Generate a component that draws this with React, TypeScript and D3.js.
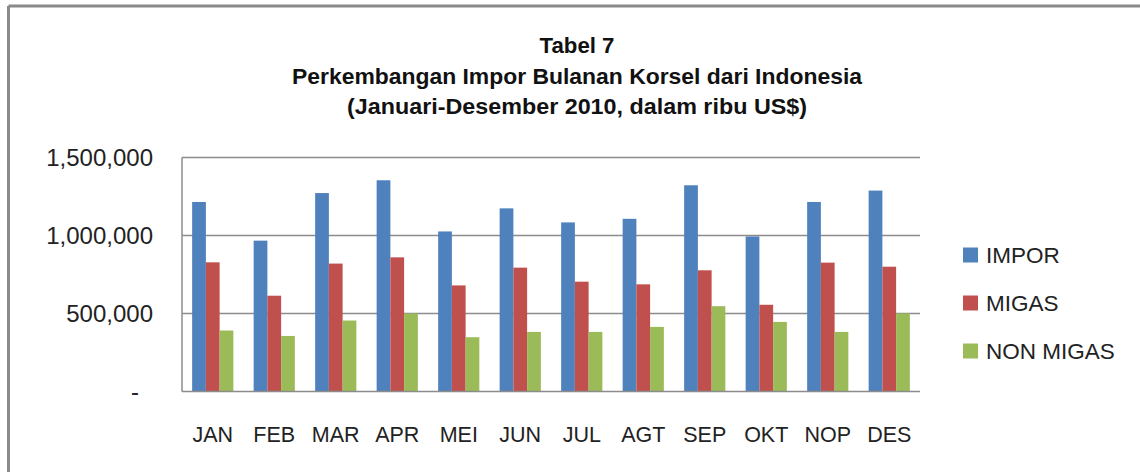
import * as d3 from 'd3'

const months = ['JAN', 'FEB', 'MAR', 'APR', 'MEI', 'JUN', 'JUL', 'AGT', 'SEP', 'OKT', 'NOP', 'DES']
const seriesNames = ['IMPOR', 'MIGAS', 'NON MIGAS']
const seriesColors = ['#4F81BD', '#C0504D', '#9BBB59']

const impor = [1215000, 967000, 1272000, 1354000, 1026000, 1174000, 1084000, 1107000, 1322000, 994000, 1215000, 1288000]
const migas = [828000, 614000, 820000, 860000, 680000, 794000, 704000, 687000, 777000, 556000, 826000, 800000]
const nonMigas = [391000, 356000, 455000, 500000, 348000, 382000, 382000, 414000, 547000, 446000, 382000, 500000]

const yTicks = [0, 500000, 1000000, 1500000]
const titleLines = [
  'Tabel 7',
  'Perkembangan Impor Bulanan Korsel dari Indonesia',
  '(Januari-Desember 2010, dalam  ribu US$)',
]

const W = 1140
const H = 472
const font = '"Liberation Sans", Arial, sans-serif'

export default function App() {
  const series = [impor, migas, nonMigas]
  const plot = { left: 182, right: 920, top: 157.5, bottom: 391.5 }

  const x0 = d3.scaleBand().domain(months).range([plot.left, plot.right])
    .paddingInner(0.33).paddingOuter(0.165)
  const x1 = d3.scaleBand().domain(seriesNames).range([0, x0.bandwidth()])
  const y = d3.scaleLinear().domain([0, 1500000]).range([plot.bottom, plot.top])
  const fmt = d3.format(',')

  // title widths follow the condensed look of the original
  const titleWidths = [75, 570, 460]
  const titleBase = [53, 84, 114]

  return (
    <div style={{ position: 'fixed', left: 0, top: 0 }}>
      <svg width={W} height={H} style={{ display: 'block', background: '#fff' }}>
        {/* outer frame, top and left visible */}
        <line x1={8.5} y1={6} x2={W} y2={6} stroke="#8a8a8a" strokeWidth={3} />
        <line x1={8.5} y1={6} x2={8.5} y2={H} stroke="#8a8a8a" strokeWidth={3} />

        {titleLines.map((t, i) => (
          <text key={t} x={577} y={titleBase[i]} textAnchor="middle" fontFamily={font}
            fontWeight="bold" fontSize={22} fill="#111"
            textLength={titleWidths[i]} lengthAdjust="spacingAndGlyphs">{t}</text>
        ))}

        {/* grid */}
        {yTicks.filter(v => v > 0).map(v => (
          <line key={v} x1={plot.left} x2={plot.right} y1={y(v)} y2={y(v)}
            stroke="#8c8c8c" strokeWidth={1.5} />
        ))}

        {/* bars */}
        {months.map((m, i) => (
          <g key={m} transform={`translate(${x0(m)},0)`}>
            {series.map((s, j) => (
              <rect key={j} x={x1(seriesNames[j])} y={y(s[i])} width={x1.bandwidth()}
                height={y(0) - y(s[i])} fill={seriesColors[j]} />
            ))}
          </g>
        ))}

        {/* axes */}
        <line x1={plot.left} x2={plot.right} y1={y(0)} y2={y(0)} stroke="#8c8c8c" strokeWidth={1.5} />
        <line x1={plot.left} x2={plot.left} y1={plot.top} y2={y(0)} stroke="#8c8c8c" strokeWidth={1.5} />

        {yTicks.map(v => (
          <text key={v} x={v === 0 ? 139 : 153} y={y(v) + 8.5} textAnchor="end"
            fontFamily={font} fontSize={24} fill="#222">
            {v === 0 ? '-' : fmt(v)}
          </text>
        ))}

        {months.map(m => (
          <text key={m} x={x0(m)! + x0.bandwidth() / 2} y={441.5} textAnchor="middle"
            fontFamily={font} fontSize={21.5} fill="#222">{m}</text>
        ))}

        {/* legend */}
        {seriesNames.map((n, i) => (
          <g key={n} transform={`translate(963,${255 + i * 48})`}>
            <rect x={0} y={-7.5} width={15} height={15} fill={seriesColors[i]} />
            <text x={23} y={8} fontFamily={font} fontSize={22.5} fill="#222">{n}</text>
          </g>
        ))}
      </svg>
    </div>
  )
}
